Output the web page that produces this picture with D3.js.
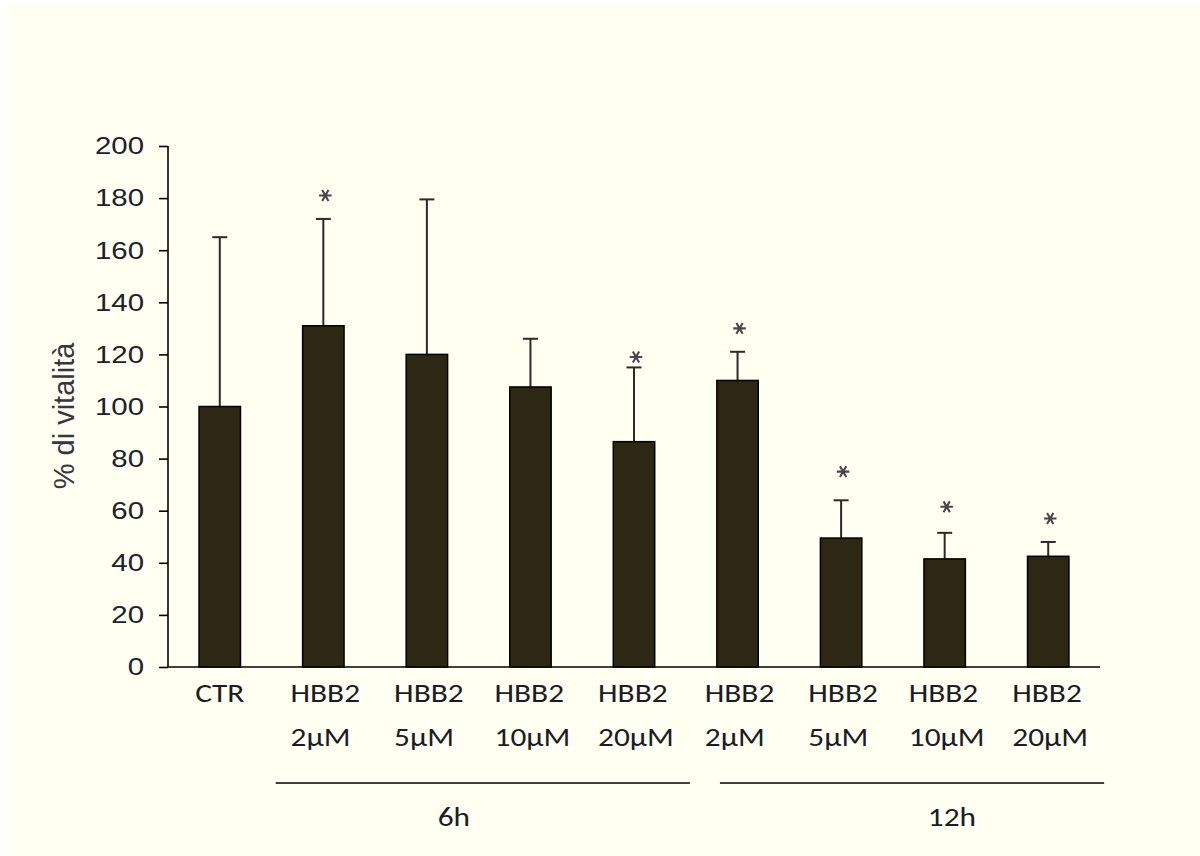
<!DOCTYPE html>
<html>
<head>
<meta charset="utf-8">
<script src="https://cdn.jsdelivr.net/npm/d3@7"></script>
<style>
  html, body { margin: 0; padding: 0; background: #ffffff; }
  svg { display: block; }
</style>
</head>
<body>
<svg id="chart" width="1200" height="856"></svg>
<script>
// Cell viability (% di vitalità) after HBB2 treatment at 6h and 12h
const labelTop    = ["CTR", "HBB2", "HBB2", "HBB2", "HBB2", "HBB2", "HBB2", "HBB2", "HBB2"];
const labelBottom = ["", "2μM", "5μM", "10μM", "20μM", "2μM", "5μM", "10μM", "20μM"];
const viability   = [100, 131, 120, 107.5, 86.5, 110, 49.5, 41.5, 42.5];
const errorSD     = [65, 41, 59.5, 18.5, 28.5, 11, 14.5, 10, 5.5];
// height (in % units) of the significance asterisk, null where not significant
const sigLevel    = [null, 181, null, null, 119, 130, 75, 61.5, 57];
const yTicks      = [0, 20, 40, 60, 80, 100, 120, 140, 160, 180, 200];
const timeGroups  = ["6h", "12h"];

const svg = d3.select("#chart");
const W = 1200, H = 856;

// cream panel
svg.append("rect").attr("x", 8).attr("y", 6).attr("width", W - 8).attr("height", H - 6)
  .attr("fill", "#fffff2");

const ids = d3.range(viability.length);
const x = d3.scaleBand().domain(ids).range([168, 1100]).paddingInner(0.6).paddingOuter(0.3);
const y = d3.scaleLinear().domain([0, 200]).range([667, 146]);
const bw = x.bandwidth();
const cx = i => x(i) + bw / 2;
// fractional category position -> pixel
const xi = d3.scaleLinear().domain([0, ids.length - 1]).range([cx(0), cx(ids.length - 1)]);

// y axis
const yAxis = svg.append("g").attr("transform", "translate(168,0)")
  .call(d3.axisLeft(y).tickValues(yTicks).tickSize(10).tickPadding(14));
yAxis.select(".domain").attr("stroke", "#000").attr("stroke-width", 1.6).attr("d", `M0,${y(200)}V${y(0)}`);
yAxis.selectAll(".tick line").attr("stroke", "#000").attr("stroke-width", 1.6).attr("x2", -9);
yAxis.selectAll(".tick text")
  .attr("font-family", "Liberation Sans, Arial, sans-serif")
  .attr("font-size", 24.5)
  .attr("fill", "#20202a")
  .each(function() {
    const t = d3.select(this);
    const xx = +t.attr("x");
    t.attr("x", null).attr("transform", `translate(${xx},0) scale(1.2,1)`);
  });

// x axis baseline
svg.append("line").attr("x1", 168).attr("x2", 1100).attr("y1", y(0)).attr("y2", y(0))
  .attr("stroke", "#000").attr("stroke-width", 1.6);

// error bars (upper only)
const eb = svg.append("g").attr("stroke", "#2a2a2a").attr("stroke-width", 2);
ids.forEach(i => {
  const top = y(viability[i] + errorSD[i]);
  eb.append("line").attr("x1", cx(i)).attr("x2", cx(i)).attr("y1", y(viability[i])).attr("y2", top);
  eb.append("line").attr("x1", cx(i) - 7.5).attr("x2", cx(i) + 7.5).attr("y1", top).attr("y2", top);
});

// bars
svg.append("g").selectAll("rect").data(ids).join("rect")
  .attr("x", i => x(i)).attr("width", bw)
  .attr("y", i => y(viability[i])).attr("height", i => y(0) - y(viability[i]))
  .attr("fill", "#2d2813").attr("stroke", "#000").attr("stroke-width", 1.5);

// significance asterisks
const star = d3.symbol().type(d3.symbolAsterisk).size(110);
svg.append("g").selectAll("path").data(ids.filter(i => sigLevel[i] != null)).join("path")
  .attr("d", star)
  .attr("transform", i => `translate(${cx(i) + 2},${y(sigLevel[i])}) rotate(90)`)
  .attr("fill", "none").attr("stroke", "#46464e").attr("stroke-width", 2.1);

// y axis title
svg.append("text")
  .attr("transform", `translate(74,${416}) rotate(-90)`)
  .attr("text-anchor", "middle")
  .attr("font-family", "Liberation Sans, Arial, sans-serif")
  .attr("font-size", 29)
  .attr("fill", "#363640")
  .text("% di vitalità");

// category labels (two lines, left-aligned block under each bar)
const catFont = "Carlito, Lato, sans-serif";
const sx = 1.14;
const catG = svg.append("g").attr("font-family", catFont).attr("font-size", 27.5)
  .attr("font-weight", 300).attr("fill", "#1c1c26");
ids.forEach(i => {
  const g = catG.append("g");
  const t1 = g.append("text").attr("y", 702).text(labelTop[i]);
  const t2 = g.append("text").attr("y", 746).text(labelBottom[i]);
  const w = Math.max(t1.node().getComputedTextLength(), t2.node().getComputedTextLength()) * sx;
  const left = cx(i) - w / 2 + (labelBottom[i] ? 2 : 0);
  g.attr("transform", `translate(${left},0) scale(${sx},1)`);
});

// time-point brackets
const spans = [[0.54, 4.54, 2.26], [4.83, 8.54, 7.07]];
timeGroups.forEach((lab, k) => {
  const [a, b, m] = spans[k];
  svg.append("line").attr("x1", xi(a)).attr("x2", xi(b)).attr("y1", 783).attr("y2", 783)
    .attr("stroke", "#000").attr("stroke-width", 1.6);
  svg.append("text").attr("transform", `translate(${xi(m)},826) scale(${sx},1)`)
    .attr("text-anchor", "middle")
    .attr("font-family", catFont).attr("font-size", 27.5).attr("font-weight", 300)
    .attr("fill", "#1c1c26")
    .text(lab);
});
</script>
</body>
</html>
